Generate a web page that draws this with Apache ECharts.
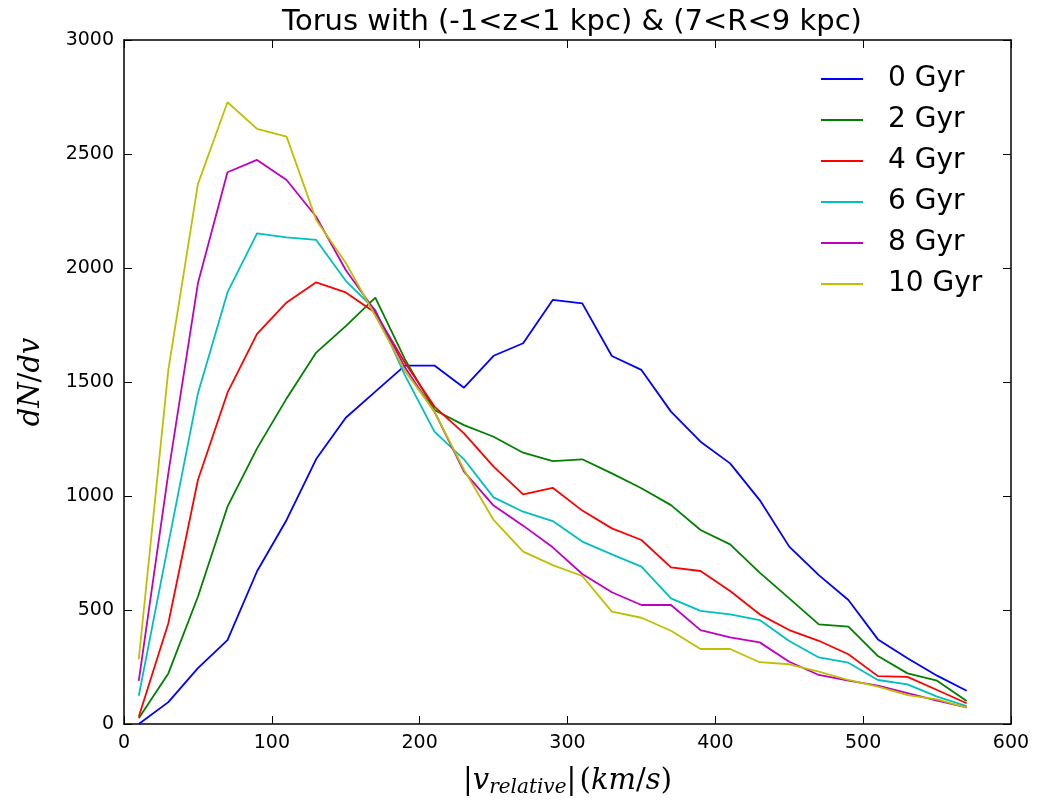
<!DOCTYPE html>
<html>
<head>
<meta charset="utf-8">
<script src="https://cdn.jsdelivr.net/npm/echarts@6/dist/echarts.min.js"></script>
<style>
html,body{margin:0;padding:0;background:#fff;}
#c{width:1039px;height:806px;}
</style>
</head>
<body>
<div id="c"></div>
<script>
var titleText = 'Torus with (-1<z<1 kpc) & (7<R<9 kpc)';
var vRel = [10,30,50,70,90,110,130,150,170,190,210,230,250,270,290,310,330,350,370,390,410,430,450,470,490,510,530,550,570];
var seriesNames = ['0 Gyr','2 Gyr','4 Gyr','6 Gyr','8 Gyr','10 Gyr'];
var seriesColors = ['#0000ff','#008000','#ff0000','#00bfbf','#bf00bf','#bfbf00'];
var gyr0 = [0,96,245,368,670,895,1162,1343,1458,1572,1572,1475,1615,1670,1860,1845,1614,1553,1370,1238,1143,982,778,653,544,371,288,212,146];
var gyr2 = [25,222,558,953,1209,1428,1629,1745,1870,1600,1377,1311,1260,1190,1153,1161,1099,1034,960,851,788,664,551,437,427,298,222,190,101];
var gyr4 = [32,442,1070,1453,1711,1849,1937,1893,1804,1585,1392,1275,1129,1007,1036,936,858,807,687,671,583,481,412,365,306,210,207,149,91];
var gyr6 = [124,790,1450,1893,2152,2134,2123,1944,1816,1530,1282,1161,994,931,890,800,744,690,551,496,481,456,364,292,269,193,174,120,79];
var gyr8 = [189,1100,1933,2420,2474,2386,2225,1991,1810,1565,1370,1107,958,870,775,658,578,522,522,412,380,358,273,215,190,168,135,102,73];
var gyr10 = [284,1553,2368,2727,2610,2576,2211,2023,1790,1550,1370,1115,895,756,697,649,493,466,409,329,329,271,262,230,193,164,127,108,72];
var xTicks = [0,100,200,300,400,500,600];
var yTicks = [0,500,1000,1500,2000,2500,3000];

var allSeries = [gyr0,gyr2,gyr4,gyr6,gyr8,gyr10];
function pairs(arr){ return vRel.map(function(x,i){ return [x, arr[i]]; }); }

var chart = echarts.init(document.getElementById('c'), null, {renderer:'canvas'});
var sansFont = 'DejaVu Sans';
function axisLine(){ return {show:true, onZero:false, lineStyle:{color:'#000', width:1.5}}; }
function tick(){ return {show:true, inside:true, length:8, lineStyle:{color:'#000', width:1}}; }
function plain(v){ return String(v); }
var mathRich = {
  a:{fontFamily:'DejaVu Serif', fontSize:29, color:'#000'},
  i:{fontFamily:'DejaVu Serif', fontStyle:'italic', fontSize:29, color:'#000'},
  s:{fontFamily:'DejaVu Serif', fontStyle:'italic', fontSize:20, color:'#000', verticalAlign:'bottom', padding:[14,0,0,0]}
};
var option = {
  animation:false,
  backgroundColor:'#fff',
  title:{
    text:titleText, left:567, top:3, textAlign:'center',
    textStyle:{fontFamily:sansFont, fontSize:29, fontWeight:'normal', color:'#000'}
  },
  legend:{
    orient:'vertical', left:816, top:60,
    itemWidth:42, itemHeight:2, itemGap:13, icon:'rect',
    data:seriesNames,
    textStyle:{fontFamily:sansFont, fontSize:28, color:'#000', padding:[0,0,0,20]}
  },
  grid:{left:124, right:28, top:40, bottom:82, containLabel:false},
  xAxis:[{
    type:'value', min:xTicks[0], max:xTicks[xTicks.length-1], interval:100,
    axisLine:axisLine(), axisTick:tick(), splitLine:{show:false},
    axisLabel:{fontFamily:sansFont, fontSize:19, color:'#000', margin:10, formatter:plain},
    name:'{a||}{i|v}{s|relative}{a||} {a|(}{i|km}{a|/}{i|s}{a|)}',
    nameLocation:'middle', nameGap:40,
    nameTextStyle:{rich:mathRich}
  },{
    type:'value', position:'top', min:xTicks[0], max:xTicks[xTicks.length-1], interval:100,
    axisLine:axisLine(), axisTick:tick(), splitLine:{show:false}, axisLabel:{show:false}
  }],
  yAxis:[{
    type:'value', min:yTicks[0], max:yTicks[yTicks.length-1], interval:500,
    axisLine:axisLine(), axisTick:tick(), splitLine:{show:false},
    axisLabel:{fontFamily:sansFont, fontSize:19, color:'#000', margin:10, formatter:plain},
    name:'{i|dN}{a|/}{i|dv}', nameLocation:'middle', nameGap:78, nameRotate:90,
    nameTextStyle:{rich:mathRich}
  },{
    type:'value', position:'right', min:yTicks[0], max:yTicks[yTicks.length-1], interval:500,
    axisLine:axisLine(), axisTick:tick(), splitLine:{show:false}, axisLabel:{show:false}
  }],
  series: seriesNames.map(function(n,k){
    return {
      name:n, type:'line', data:pairs(allSeries[k]),
      symbol:'none', smooth:false,
      lineStyle:{color:seriesColors[k], width:1.8},
      itemStyle:{color:seriesColors[k]},
      xAxisIndex:0, yAxisIndex:0
    };
  })
};
chart.setOption(option);
</script>
</body>
</html>
